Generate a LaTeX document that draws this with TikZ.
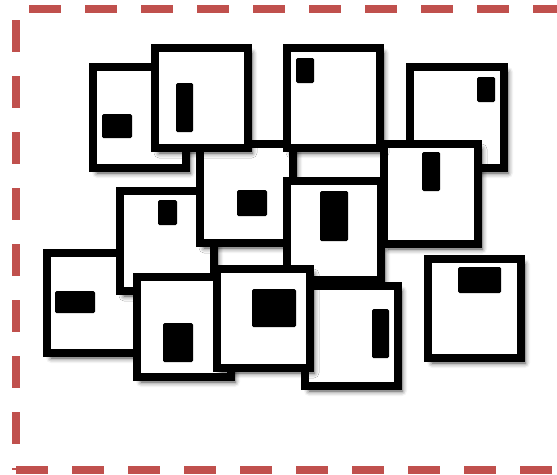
\documentclass[tikz,border=0pt]{standalone}
\usetikzlibrary{shadows.blur}
\definecolor{dashred}{HTML}{C0504D}
\begin{document}
\begin{tikzpicture}[x=1pt,y=-1pt,
  card/.style={draw=black, line width=8pt, fill=white, rectangle, inner sep=0pt,
    blur shadow={shadow xshift=4pt, shadow yshift=-5pt, shadow blur radius=5pt, shadow opacity=75}},
  glyph/.style={fill=black, rectangle, inner sep=0pt, rounded corners=1.5pt},
  frameline/.style={draw=dashred, line width=8pt, dash pattern=on 32pt off 24pt}]
\useasboundingbox (0,0) rectangle (557,474);
\clip (0,0) rectangle (557,474);
% dashed frame
\coordinate (tl) at (29,9);
\coordinate (tr) at (600,9);
\coordinate (lt) at (16,20);
\coordinate (lb) at (16,470);
\coordinate (br) at (600,470);
\draw[frameline] (tl) -- (tr);
\draw[frameline] (lt) -- (lb);
\draw[frameline] (lb) -- (br);
% cards, back to front
\node[card, minimum width=93pt, minimum height=101pt] (A) at (139.5,117.5) {};
\node[glyph, minimum width=30pt, minimum height=24pt] (Am) at (117,126) {};
\node[card, minimum width=93pt, minimum height=100pt] (J) at (93.5,303) {};
\node[glyph, minimum width=40pt, minimum height=22pt] (Jm) at (75,302) {};
\node[card, minimum width=94pt, minimum height=100pt] (I) at (167,241) {};
\node[glyph, minimum width=19pt, minimum height=25pt] (Im) at (167.5,212.5) {};
\node[card, minimum width=93pt, minimum height=99pt] (C) at (246.5,193.5) {};
\node[glyph, minimum width=30pt, minimum height=26pt] (Cm) at (252,203) {};
\node[card, minimum width=93pt, minimum height=100pt] (B) at (201.5,98) {};
\node[glyph, minimum width=17pt, minimum height=49pt] (Bm) at (184.5,107.5) {};
\node[card, minimum width=94pt, minimum height=99pt] (E) at (334,230.5) {};
\node[glyph, minimum width=28pt, minimum height=50pt] (Em) at (334,216) {};
\node[card, minimum width=94pt, minimum height=101pt] (G) at (457,117.5) {};
\node[glyph, minimum width=18pt, minimum height=25pt] (Gm) at (486,89.5) {};
\node[card, minimum width=94pt, minimum height=100pt] (F) at (431,194) {};
\node[glyph, minimum width=18pt, minimum height=39pt] (Fm) at (431,171.5) {};
\node[card, minimum width=93pt, minimum height=100pt] (D) at (333.5,98) {};
\node[glyph, minimum width=18pt, minimum height=25pt] (Dm) at (305,70.5) {};
\node[card, minimum width=94pt, minimum height=100pt] (K) at (184,327) {};
\node[glyph, minimum width=30pt, minimum height=39pt] (Km) at (178,342.5) {};
\node[card, minimum width=93pt, minimum height=100pt] (M) at (351.5,336) {};
\node[glyph, minimum width=17pt, minimum height=49pt] (Mm) at (380.5,333.5) {};
\node[card, minimum width=93pt, minimum height=99pt] (L) at (263.5,318.5) {};
\node[glyph, minimum width=44pt, minimum height=38pt] (Lm) at (274,308) {};
\node[card, minimum width=93pt, minimum height=99pt] (H) at (474.5,308.5) {};
\node[glyph, minimum width=43pt, minimum height=26pt] (Hm) at (479.5,280) {};
\end{tikzpicture}
\end{document}
